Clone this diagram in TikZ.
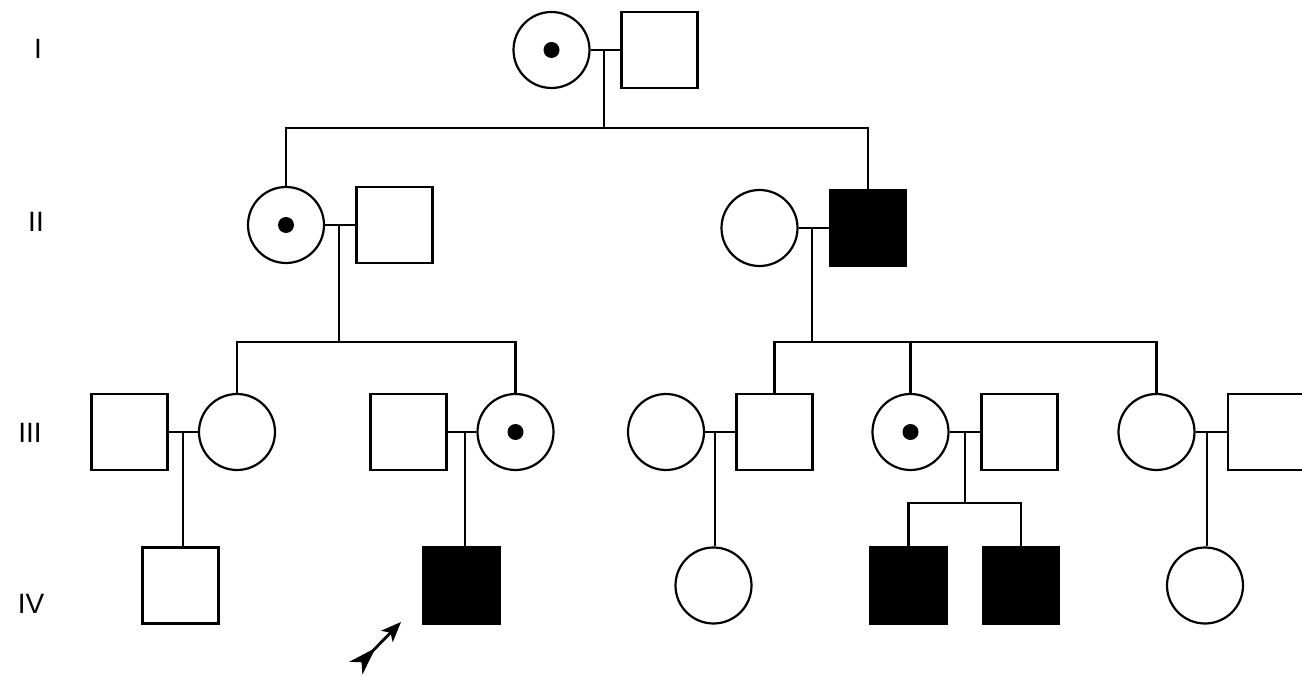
\documentclass[tikz,border=0pt]{standalone}
\usepackage{fontspec}
\setmainfont{Liberation Sans}
\usetikzlibrary{arrows.meta,calc}
\begin{document}
\begin{tikzpicture}[x=1pt,y=-1pt,line width=2.2pt,
  female/.style={circle,draw,minimum size=76pt,inner sep=0pt},
  male/.style={rectangle,draw,minimum size=76pt,inner sep=0pt},
  affected/.style={fill=black},
  carrier/.style={path picture={\fill[black] (path picture bounding box.center) circle (8pt);}},
  genlabel/.style={font=\fontsize{28}{32}\selectfont,inner sep=0pt}]
\useasboundingbox[fill=white] (0,0) rectangle (1302,676);

% generation labels
\node[genlabel] (gI)   at (38,49)  {I};
\node[genlabel] (gII)  at (36,222) {II};
\node[genlabel] (gIII) at (30,433) {III};
\node[genlabel] (gIV)  at (31,604) {IV};

% generation I
\node[female,carrier] (f1) at (551.5,50) {};
\node[male] (m1) at (659.5,50) {};
% generation II
\node[female,carrier] (f2) at (286,225) {};
\node[male] (m2) at (394.5,225) {};
\node[female] (f3) at (759.5,228) {};
\node[male,affected] (m3) at (868,228) {};
% generation III
\node[male] (m4) at (129.5,432) {};
\node[female] (f4) at (237,432) {};
\node[male] (m5) at (408.5,432) {};
\node[female,carrier] (f5) at (515.5,432) {};
\node[female] (f6) at (666,432) {};
\node[male] (m6) at (774.5,432) {};
\node[female,carrier] (f7) at (910.5,432) {};
\node[male] (m7) at (1019.5,432) {};
\node[female] (f8) at (1156.5,432) {};
\node[male] (m8) at (1266,432) {};
% generation IV
\node[male] (i1) at (180.5,585.5) {};
\node[male,affected] (i2) at (461.5,585.5) {};
\node[female] (i3) at (713.5,585.5) {};
\node[male,affected] (i4) at (908.5,585.5) {};
\node[male,affected] (i5) at (1021,585.5) {};
\node[female] (i6) at (1205,585.5) {};

% marriage points and sibship points
\coordinate (c1) at (604,50);
\coordinate (s1) at (604,128);
\coordinate (c2) at (339,225);
\coordinate (s2) at (339,342);
\coordinate (c3) at (812,228);
\coordinate (s3) at (812,342);
\coordinate (c4) at (183,432);
\coordinate (c5) at (465,432);
\coordinate (c6) at (715,432);
\coordinate (c7) at (965,432);
\coordinate (s7) at (965,503);
\coordinate (c8) at (1207,432);

% marriage lines
\draw (f1.east) -- (m1.west);
\draw (f2.east) -- (m2.west);
\draw (f3.east) -- (m3.west);
\draw (m4.east) -- (f4.west);
\draw (m5.east) -- (f5.west);
\draw (f6.east) -- (m6.west);
\draw (f7.east) -- (m7.west);
\draw (f8.east) -- (m8.west);

% descent and sibship lines
\draw (c1) -- (s1);
\draw (f2.north) |- (s1) -| (m3.north);
\draw (c2) -- (s2);
\draw (f4.north) |- (s2) -| (f5.north);
\draw (c3) -- (s3);
\draw (m6.north) |- (s3) -| (f8.north);
\draw (f7.north) -- (f7.north |- s3);
\draw (c4) -- (c4 |- i1.north);
\draw (c5) -- (c5 |- i2.north);
\draw (c6) -- (c6 |- i3.north);
\draw (c7) -- (s7);
\draw (i4.north) |- (s7) -| (i5.north);
\draw (c8) -- (c8 |- i6.north);

% proband arrow
\coordinate (ar1) at (356,668);
\coordinate (ar2) at (401,622);
\draw[line width=2.8pt,{Stealth[reversed,length=28pt,width=18pt,inset=8pt]}-{Stealth[length=20pt,width=16pt,inset=5pt]}] (ar1) -- (ar2);
\end{tikzpicture}
\end{document}
